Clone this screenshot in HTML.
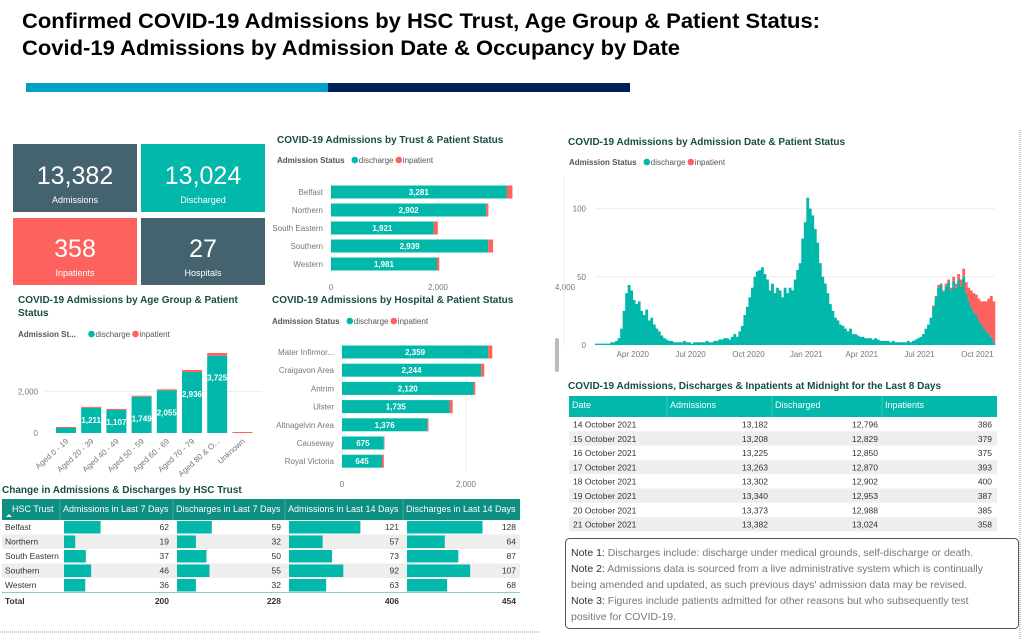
<!DOCTYPE html>
<html><head><meta charset="utf-8"><style>
html,body{margin:0;padding:0;background:#fff;width:1026px;height:640px;overflow:hidden}
svg{display:block;font-family:"Liberation Sans",sans-serif}
.ct{font-size:10px;font-weight:bold;fill:#174c47}
.lg{font-size:8px;fill:#555}
.ax{font-size:8px;fill:#777}
.bl{font-size:8px;fill:#fff;font-weight:bold}
.td{font-size:8.5px;fill:#333}
</style></head><body>
<svg id="s" width="1026" height="640" viewBox="0 0 1026 640">
<text x="22" y="28" font-size="21" font-weight="bold" fill="#000" textLength="798" lengthAdjust="spacingAndGlyphs">Confirmed COVID-19 Admissions by HSC Trust, Age Group &amp; Patient Status:</text>
<text x="22" y="55" font-size="21" font-weight="bold" fill="#000" textLength="658" lengthAdjust="spacingAndGlyphs">Covid-19 Admissions by Admission Date &amp; Occupancy by Date</text>
<rect x="26" y="83" width="302" height="9" fill="#00a0c6"/>
<rect x="328" y="83" width="302" height="9" fill="#001f5b"/>

<g><rect x="13" y="144" width="124" height="68" fill="#45636e"/><text x="75" y="184" text-anchor="middle" font-size="25" fill="#fff">13,382</text><text x="75" y="203" text-anchor="middle" font-size="9" fill="#fff">Admissions</text></g>
<g><rect x="141" y="144" width="124" height="68" fill="#01b8aa"/><text x="203" y="184" text-anchor="middle" font-size="25" fill="#fff">13,024</text><text x="203" y="203" text-anchor="middle" font-size="9" fill="#fff">Discharged</text></g>
<g><rect x="13" y="218" width="124" height="67" fill="#fd625e"/><text x="75" y="257" text-anchor="middle" font-size="25" fill="#fff">358</text><text x="75" y="276" text-anchor="middle" font-size="9" fill="#fff">Inpatients</text></g>
<g><rect x="141" y="218" width="124" height="67" fill="#45636e"/><text x="203" y="257" text-anchor="middle" font-size="25" fill="#fff">27</text><text x="203" y="276" text-anchor="middle" font-size="9" fill="#fff">Hospitals</text></g>

<text class="ct" x="277" y="143">COVID-19 Admissions by Trust &amp; Patient Status</text>
<text class="ct" x="18" y="303">COVID-19 Admissions by Age Group &amp; Patient</text>
<text class="ct" x="18" y="316">Status</text>
<text class="ct" x="272" y="303">COVID-19 Admissions by Hospital &amp; Patient Status</text>
<text class="ct" x="568" y="145">COVID-19 Admissions by Admission Date &amp; Patient Status</text>
<text class="ct" x="568" y="389">COVID-19 Admissions, Discharges &amp; Inpatients at Midnight for the Last 8 Days</text>
<text class="ct" x="2" y="493">Change in Admissions &amp; Discharges by HSC Trust</text>

<line x1="1020" y1="130" x2="1020" y2="640" stroke="#999" stroke-dasharray="1,1"/>
<line x1="0" y1="632" x2="540" y2="632" stroke="#999" stroke-dasharray="1,1"/>
<rect x="555" y="338" width="4" height="34" rx="2" fill="#bbb"/>
<text class="ax" x="555" y="290">4,000</text>

<g>
<rect x="565.5" y="538.5" width="453" height="90" rx="4" fill="#fff" stroke="#555"/>
<text x="571" y="556" font-size="10.5" fill="#777"><tspan fill="#333">Note 1:</tspan> Discharges include: discharge under medical grounds, self-discharge or death.</text>
<text x="571" y="572" font-size="10.5" fill="#777"><tspan fill="#333">Note 2:</tspan> Admissions data is sourced from a live administrative system which is continually</text>
<text x="571" y="588" font-size="10.5" fill="#777">being amended and updated, as such previous days' admission data may be revised.</text>
<text x="571" y="604" font-size="10.5" fill="#777"><tspan fill="#333">Note 3:</tspan> Figures include patients admitted for other reasons but who subsequently test</text>
<text x="571" y="620" font-size="10.5" fill="#777">positive for COVID-19.</text>
</g>
</svg>
<script>
const trustNames=["Belfast","Northern","South Eastern","Southern","Western"];
const trustDis=[3281,2902,1921,2939,1981];
const trustInp=[110,40,75,90,43];
const hospNames=["Mater Infirmor...","Craigavon Area","Antrim","Ulster","Altnagelvin Area","Causeway","Royal Victoria"];
const hospDis=[2359,2244,2120,1735,1376,675,645];
const hospInp=[65,50,30,50,20,10,30];
const ageNames=["Aged 0 - 19","Aged 20 - 39","Aged 40 - 49","Aged 50 - 59","Aged 60 - 69","Aged 70 - 79","Aged 80 & O...","Unknown"];
const ageDis=[241,1211,1107,1749,2055,2936,3725,0];
const ageInp=[3,5,20,40,50,100,130,10];
const dateTicks=["Apr 2020","Jul 2020","Oct 2020","Jan 2021","Apr 2021","Jul 2021","Oct 2021"];
const dateTickIdx=[15,38,61,84,106,129,152];
const dailyDis=[1,1,1,1,1,1,2,2, 3,5,12,25,38,44,40, 33,30,32,25,22,26,18,20, 15,12,10,7,5,4,3,3, 2,2,2,2,3,2,2,1, 2,2,2,2,2,3,2,2, 3,3,4,4,5,5,4, 6,8,6,10,14,22,28,35, 42,50,54,55,57,52,48,40, 45,38,42,40,35,42,38, 42,40,48,55,60,78,90,108, 100,95,85,75,60,50,45,38, 30,25,20,18,15,14,12, 10,12,8,8,7,6,6,5, 5,5,4,5,4,3,3, 3,3,2,3,2,2,2,2, 2,3,2,3,4,5,6,8, 12,15,20,28,35,42,44,39, 43,46,40,47,42,48,43, 50,38,32,28,24,22,18,15, 12,10,8,6,2];
const dailyInp=[0,0,0,0,0,0,0,0, 0,0,0,0,0,0,0, 0,0,0,0,0,0,0,0, 0,0,0,0,0,0,0,0, 0,0,0,0,0,0,0,0, 0,0,0,0,0,0,0,0, 0,0,0,0,0,0,0, 0,0,0,0,0,0,0,0, 0,0,0,0,0,0,0,0, 0,0,0,0,0,0,0, 0,0,0,0,0,0,0,0, 0,0,0,0,0,0,0,0, 0,0,0,0,0,0,0, 0,0,0,0,0,0,0,0, 0,0,0,0,0,0,0, 0,0,0,0,0,0,0,0, 0,0,0,0,0,0,0,0, 0,0,0,1,1,2,1,1, 2,2,2,3,3,4,5, 6,8,10,12,14,15,16,17, 20,22,26,30,30];
const l8Dates=["14 October 2021","15 October 2021","16 October 2021","17 October 2021","18 October 2021","19 October 2021","20 October 2021","21 October 2021"];
const l8Adm=["13,182","13,208","13,225","13,263","13,302","13,340","13,373","13,382"];
const l8Dis=["12,796","12,829","12,850","12,870","12,902","12,953","12,988","13,024"];
const l8Inp=[386,379,375,393,400,387,385,358];
const chgTrusts=["Belfast","Northern","South Eastern","Southern","Western"];
const chgA7=[62,19,37,46,36];
const chgD7=[59,32,50,55,32];
const chgA14=[121,57,73,92,63];
const chgD14=[128,64,87,107,68];
const chgTotals=[200,228,406,454];

const S=document.getElementById('s'),NS='http://www.w3.org/2000/svg';
function mk(t,a,txt,p){const e=document.createElementNS(NS,t);for(const k in a)e.setAttribute(k,a[k]);if(txt!=null)e.textContent=txt;(p||S).appendChild(e);return e;}
const TEAL='#01b8aa',RED='#fd625e';
function legend(x,y,label){const g=mk('g',{});


mk('text',{x:x,y:y,class:'lg','font-weight':'bold'},label,g);
const w=label.length*4.3+6;mk('circle',{cx:x+w+3,cy:y-3,r:3.3,fill:TEAL},null,g);mk('text',{x:x+w+7,y:y,class:'lg'},'discharge',g);
mk('circle',{cx:x+w+47,cy:y-3,r:3.3,fill:RED},null,g);mk('text',{x:x+w+51,y:y,class:'lg'},'inpatient',g);}
legend(277,163,'Admission Status');legend(272,324,'Admission Status');legend(18,337,'Admission St...');legend(569,165,'Admission Status');

function hbar(names,dis,inp,x0,pxPer,yc,step,axY,nm){
  const gx=x0+2000*pxPer;
  mk('line',{x1:x0,y1:yc-10,x2:x0,y2:yc+step*(names.length-1)+10,stroke:'#eee'});
  mk('line',{x1:gx,y1:yc-10,x2:gx,y2:yc+step*(names.length-1)+10,stroke:'#eee'});
  mk('text',{x:x0,y:axY,class:'ax','text-anchor':'middle'},'0');
  mk('text',{x:gx,y:axY,class:'ax','text-anchor':'middle'},'2,000');
  names.forEach((n,i)=>{const y=yc+i*step;const w=dis[i]*pxPer,w2=inp[i]*pxPer;
    const g=mk('g',{});
    
    
    mk('text',{x:x0-8,y:y+3,class:'ax','text-anchor':'end'},n,g);
    mk('rect',{x:x0,y:y-6.5,width:w,height:13,fill:TEAL},null,g);
    mk('rect',{x:x0+w,y:y-6.5,width:w2,height:13,fill:RED},null,g);
    mk('text',{x:x0+w/2,y:y+3,class:'bl','text-anchor':'middle'},dis[i].toLocaleString('en-US'),g);});
}
hbar(trustNames,trustDis,trustInp,331,0.0535,192,18,290,'trust');
hbar(hospNames,hospDis,hospInp,342,0.062,352,18.2,487,'hospital');

(function(){const y0=433,pp=41.5/2000,x0=56,step=25.2,bw=20;
 mk('line',{x1:45,y1:y0-2000*pp,x2:262,y2:y0-2000*pp,stroke:'#eee'});
 mk('text',{x:38,y:y0-2000*pp+3,class:'ax','text-anchor':'end'},'2,000');
 mk('text',{x:38,y:y0+3,class:'ax','text-anchor':'end'},'0');
 ageNames.forEach((n,i)=>{const x=x0+i*step,h=ageDis[i]*pp,h2=Math.max(ageInp[i]*pp,1);
  const g=mk('g',{});
  
  
  mk('rect',{x:x,y:y0-h,width:bw,height:h,fill:TEAL},null,g);
  mk('rect',{x:x,y:y0-h-h2,width:bw,height:h2,fill:RED},null,g);
  if(ageDis[i]>1000)mk('text',{x:x+bw/2,y:y0-h+ (i>2?25:15),class:'bl','text-anchor':'middle','font-weight':'normal'},ageDis[i].toLocaleString('en-US'),g);
  mk('text',{x:x+bw/2+3,y:y0+9,class:'ax','text-anchor':'end',transform:'rotate(-42 '+(x+bw/2+3)+' '+(y0+9)+')'},n,g);});
})();

(function(){const x0=595,x1=995,y0=345,pp=1.364,n=dailyDis.length,bw=(x1-x0)/n;
 mk('line',{x1:564,y1:178,x2:564,y2:y0,stroke:'#eee'});
 [50,100].forEach(v=>{mk('line',{x1:595,y1:y0-v*pp,x2:995,y2:y0-v*pp,stroke:'#eee'});mk('text',{x:586,y:y0-v*pp+3,class:'ax','text-anchor':'end'},String(v));});
 mk('text',{x:586,y:y0+3,class:'ax','text-anchor':'end'},'0');
 const g=mk('g',{});
 
 
 dailyDis.forEach((v,i)=>{const x=x0+i*bw,h=v*pp,h2=dailyInp[i]*pp;
  mk('rect',{x:x,y:y0-h,width:bw+0.3,height:h,fill:TEAL},null,g);
  if(h2>0)mk('rect',{x:x,y:y0-h-h2,width:bw+0.3,height:h2,fill:RED},null,g);});
 dateTicks.forEach((t,i)=>mk('text',{x:x0+dateTickIdx[i]*bw,y:357,class:'ax','text-anchor':'middle'},t));
})();

(function(){const cols=[569,667,772,882,997];
 mk('rect',{x:569,y:396,width:428,height:21,fill:TEAL});
 ['Date','Admissions','Discharged','Inpatients'].forEach((h,i)=>{mk('text',{x:cols[i]+3,y:408,'font-size':9,fill:'#fff'},h);if(i>0)mk('line',{x1:cols[i],y1:396,x2:cols[i],y2:417,stroke:'#3cc9bd'});});
 l8Dates.forEach((d,i)=>{const y=417+i*14.3;const g=mk('g',{});
  
  
  if(i%2==1)mk('rect',{x:569,y:y,width:428,height:14.3,fill:'#eee'},null,g);
  mk('text',{x:573,y:y+10.5,class:'td'},d,g);
  mk('text',{x:768,y:y+10.5,class:'td','text-anchor':'end'},l8Adm[i],g);
  mk('text',{x:878,y:y+10.5,class:'td','text-anchor':'end'},l8Dis[i],g);
  mk('text',{x:992,y:y+10.5,class:'td','text-anchor':'end'},String(l8Inp[i]),g);});
})();

(function(){const cols=[2,60,173,285,403,520];const data=[chgA7,chgD7,chgA14,chgD14];const sc=0.59;
 mk('rect',{x:2,y:499,width:518,height:21,fill:'#0d8f82'});
 ['HSC Trust','Admissions in Last 7 Days','Discharges in Last 7 Days','Admissions in Last 14 Days','Discharges in Last 14 Days'].forEach((h,i)=>{mk('text',{x:cols[i]+(i?3:10),y:512,'font-size':9,fill:'#fff'},h);if(i>0)mk('line',{x1:cols[i],y1:499,x2:cols[i],y2:520,stroke:'#3aa99d'});});
 mk('path',{d:'M6 517 L9 514 L12 517 Z',fill:'#fff'});
 chgTrusts.forEach((t,r)=>{const y=520+r*14.5;const g=mk('g',{});
  
  
  if(r%2==1)mk('rect',{x:2,y:y,width:518,height:14.5,fill:'#eee'},null,g);
  mk('text',{x:5,y:y+10,class:'td'},t,g);
  data.forEach((arr,c)=>{const x=cols[c+1]+4;mk('rect',{x:x,y:y+1,width:arr[r]*sc,height:12.5,fill:TEAL},null,g);
   mk('text',{x:cols[c+2]-4,y:y+10,class:'td','text-anchor':'end'},String(arr[r]),g);});});
 mk('line',{x1:2,y1:592.5,x2:520,y2:592.5,stroke:'#7fd3cb'});
 mk('text',{x:5,y:604,class:'td','font-weight':'bold'},'Total');
 chgTotals.forEach((v,c)=>mk('text',{x:cols[c+2]-4,y:604,class:'td','text-anchor':'end','font-weight':'bold'},String(v)));
})();
</script>
</body></html>
